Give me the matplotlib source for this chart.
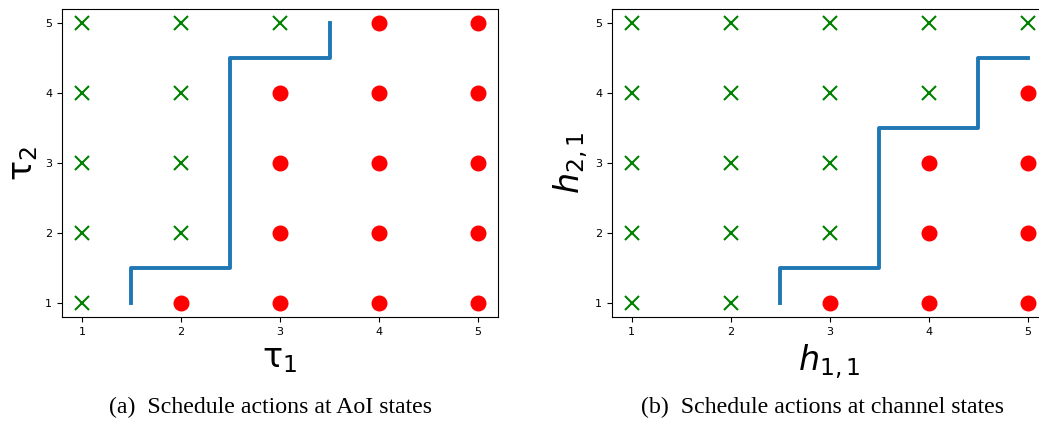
import matplotlib
matplotlib.use("Agg")
import matplotlib.pyplot as plt
import numpy as np

# Left panel: AoI states
aoi_x_tau1 = [1, 2, 3, 1, 2, 1, 2, 1, 2, 1]
aoi_x_tau2 = [5, 5, 5, 4, 4, 3, 3, 2, 2, 1]
aoi_o_tau1 = [4, 5, 3, 4, 5, 3, 4, 5, 3, 4, 5, 2, 3, 4, 5]
aoi_o_tau2 = [5, 5, 4, 4, 4, 3, 3, 3, 2, 2, 2, 1, 1, 1, 1]
aoi_line_x = [1.5, 1.5, 2.5, 2.5, 3.5, 3.5]
aoi_line_y = [1.0, 1.5, 1.5, 4.5, 4.5, 5.0]

# Right panel: channel states
ch_x_h11 = [1, 2, 3, 4, 5, 1, 2, 3, 4, 1, 2, 3, 1, 2, 3, 1, 2]
ch_x_h21 = [5, 5, 5, 5, 5, 4, 4, 4, 4, 3, 3, 3, 2, 2, 2, 1, 1]
ch_o_h11 = [5, 4, 5, 4, 5, 3, 4, 5]
ch_o_h21 = [4, 3, 3, 2, 2, 1, 1, 1]
ch_line_x = [2.5, 2.5, 3.5, 3.5, 4.5, 4.5, 5.0]
ch_line_y = [1.0, 1.5, 1.5, 3.5, 3.5, 4.5, 4.5]

ticks = [1, 2, 3, 4, 5]

fig = plt.figure(figsize=(10.39, 4.23), dpi=100)
ax1 = fig.add_axes([0.0597, 0.2506, 0.4196, 0.728])
ax2 = fig.add_axes([0.589, 0.2506, 0.4193, 0.728])

def draw(ax, xx, xy, ox, oy, lx, ly, xl, yl):
    ax.plot(xx, xy, linestyle='none', marker='x', color='green', markersize=10, markeredgewidth=1.5)
    ax.plot(ox, oy, linestyle='none', marker='o', color='red', markersize=10.5)
    ax.plot(lx, ly, color='#1f77b4', linewidth=2.8)
    ax.set_xticks(ticks)
    ax.set_yticks(ticks)
    ax.tick_params(labelsize=8)
    ax.set_xlim(0.8, 5.2)
    ax.set_ylim(0.8, 5.2)
    ax.set_xlabel(xl, fontsize=24, labelpad=4)
    ax.set_ylabel(yl, fontsize=24, labelpad=4)

draw(ax1, aoi_x_tau1, aoi_x_tau2, aoi_o_tau1, aoi_o_tau2, aoi_line_x, aoi_line_y,
     r'$\mathrm{\tau}_1$', r'$\mathrm{\tau}_2$')
draw(ax2, ch_x_h11, ch_x_h21, ch_o_h11, ch_o_h21, ch_line_x, ch_line_y,
     r'$h_{1,1}$', r'$h_{2,1}$')

fig.text(0.260, 0.037, '(a)  Schedule actions at AoI states', ha='center', va='center',
         family='Liberation Serif', fontsize=17.2)
fig.text(0.7915, 0.037, '(b)  Schedule actions at channel states', ha='center', va='center',
         family='Liberation Serif', fontsize=17.2)

fig.savefig('out.png', dpi=100)
